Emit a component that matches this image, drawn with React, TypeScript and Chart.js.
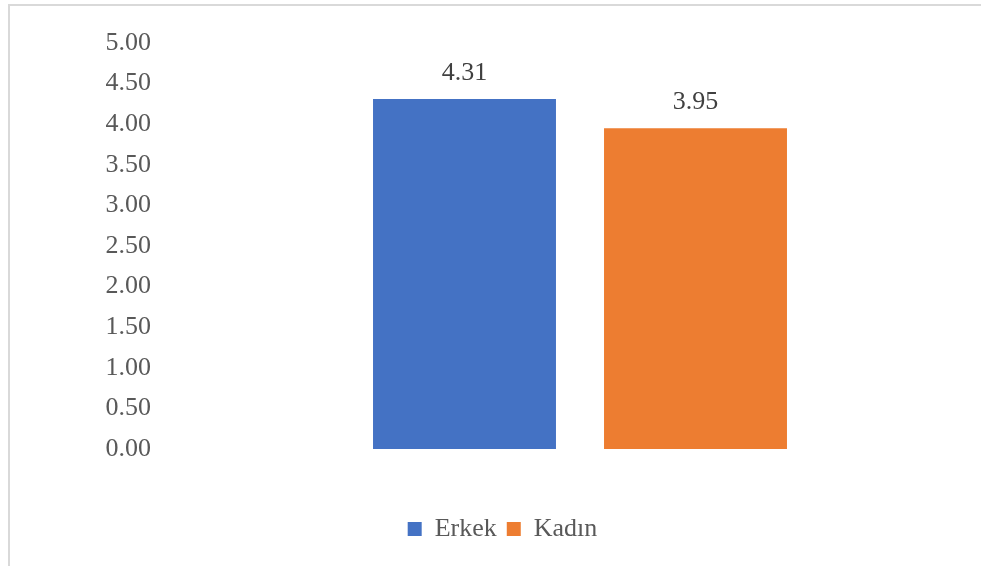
import React, { useEffect, useRef } from "react";
import { Chart, registerables } from "chart.js";

Chart.register(...registerables);

const categories = [""];
const seriesNames = ["Erkek", "Kadın"];
const seriesValues = [[4.31], [3.95]];
const seriesColors = ["#4472C4", "#ED7D31"];
const yMin = 0;
const yMax = 5;
const yStep = 0.5;

const FONT = "'Liberation Serif', 'Times New Roman', serif";

const dataLabelPlugin = {
  id: "dataLabels",
  afterDatasetsDraw(chart: any) {
    const ctx = chart.ctx;
    ctx.save();
    ctx.font = `26px ${FONT}`;
    ctx.fillStyle = "#404040";
    ctx.textAlign = "center";
    ctx.textBaseline = "middle";
    chart.data.datasets.forEach((ds: any, di: number) => {
      const meta = chart.getDatasetMeta(di);
      meta.data.forEach((el: any, i: number) => {
        ctx.fillText(Number(ds.data[i]).toFixed(2), el.x, el.y - 26);
      });
    });
    ctx.restore();
  },
};

export default function App() {
  const ref = useRef<HTMLCanvasElement | null>(null);
  useEffect(() => {
    if (!ref.current) return;
    const chart = new Chart(ref.current, {
      type: "bar",
      data: {
        labels: categories,
        datasets: seriesNames.map((name, i) => ({
          label: name,
          data: seriesValues[i],
          backgroundColor: seriesColors[i],
          borderWidth: 0,
          categoryPercentage: 0.6079,
          barPercentage: 0.792,
        })),
      },
      options: {
        responsive: false,
        animation: false,
        layout: { padding: { left: 45, top: 43, right: 21, bottom: 14 } },
        plugins: {
          tooltip: { enabled: false },
          legend: {
            position: "bottom",
            labels: {
              boxWidth: 14,
              boxHeight: 14,
              padding: 10,
              color: "#595959",
              font: { family: FONT, size: 26 },
            },
          },
        },
        scales: {
          x: {
            grid: { display: false },
            border: { display: false },
            ticks: { display: false },
            afterFit: (scale: any) => {
              scale.height = 57;
            },
          },
          y: {
            min: yMin,
            max: yMax,
            grid: { display: false, drawTicks: false },
            border: { display: false },
            ticks: {
              stepSize: yStep,
              padding: 49,
              color: "#595959",
              font: { family: FONT, size: 26 },
              callback: (v: any) => Number(v).toFixed(2),
            },
            afterFit: (scale: any) => {
              scale.width = 155;
              scale.paddingTop = 0;
              scale.paddingBottom = 0;
            },
          },
        },
      },
      plugins: [dataLabelPlugin],
    });
    return () => chart.destroy();
  }, []);
  return (
    <div style={{ position: "fixed", left: 0, top: 0, width: 981, height: 566, background: "#fff" }}>
      <div
        style={{
          position: "absolute",
          left: 8,
          top: 4,
          width: 980,
          height: 570,
          border: "2px solid #d9d9d9",
          boxSizing: "border-box",
        }}
      />
      <canvas ref={ref} width={981} height={566} style={{ position: "absolute", left: 0, top: 0 }} />
    </div>
  );
}
